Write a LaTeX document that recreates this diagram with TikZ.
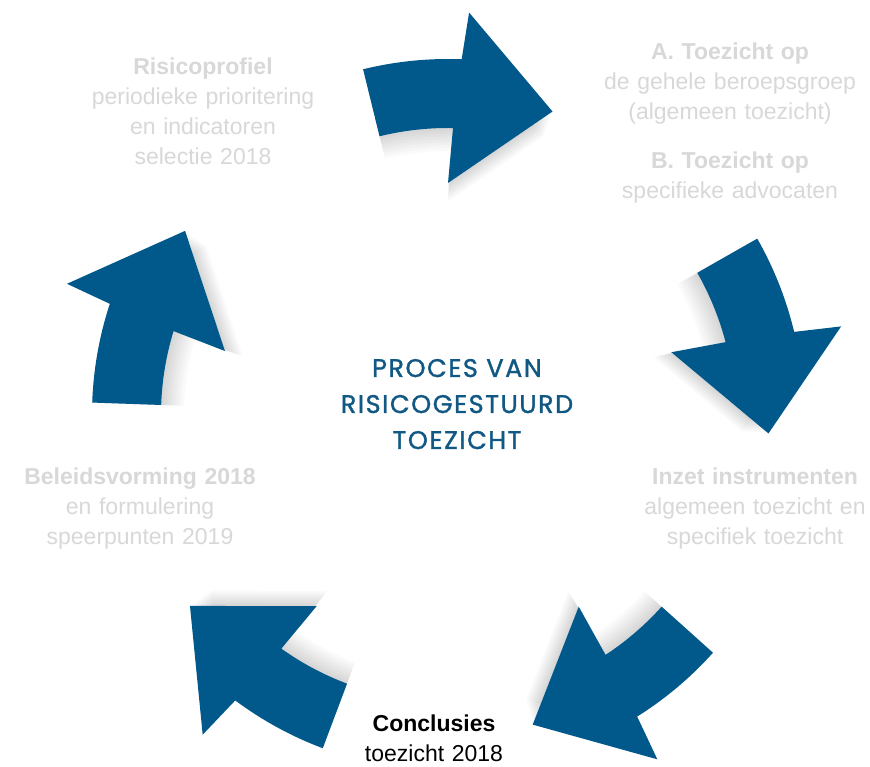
\documentclass[tikz,border=0pt]{standalone}
\usepackage{fontspec}
\setmainfont{Liberation Sans}
\newfontfamily\titlefont[LetterSpace=6,FakeBold=1.3]{Poppins}
\definecolor{arrowblue}{RGB}{0,89,138}
\definecolor{lightlabel}{RGB}{216,216,216}
\definecolor{titleblue}{RGB}{18,88,132}
% #1 = angle of head base, #2 = angle of tail (centre of the ring at origin)
\newcommand{\ringarrowpath}[2]{%
  (#2:356pt) arc[start angle=#2, end angle=#1-0.7, radius=356pt]
  -- (#1-1.5:403pt) -- (#1-17.5:321pt) -- (#1+1.5:232pt) -- (#1+0.5:287pt)
  arc[start angle=#1+0.5, end angle=#2, radius=287pt] -- cycle}
\newcommand{\ringarrow}[2]{%
  \foreach \s in {0.99,0.98,0.97,0.96,0.95,0.94,0.93,0.92}{%
    \begin{scope}[scale=\s]
      \fill[shadowpart] \ringarrowpath{#1}{#2};
    \end{scope}}%
  \fill[arrowpart] \ringarrowpath{#1}{#2};}
\begin{document}
\begin{tikzpicture}[x=1pt,y=1pt,
  arrowpart/.style={fill=arrowblue},
  shadowpart/.style={fill=black, fill opacity=0.018},
  lbl/.style={text width=280pt, align=center, anchor=base, inner sep=0pt,
    font=\fontsize{23}{30}\selectfont},
  graylbl/.style={lbl, text=lightlabel},
  blacklbl/.style={lbl, text=black},
  titlelbl/.style={text width=300pt, align=center, anchor=base, inner sep=0pt,
    text=titleblue, font=\titlefont\fontsize{25.5}{36}\selectfont}]
\fill[white] (0,0) rectangle (870,766);
\useasboundingbox (0,0) rectangle (870,766);
\coordinate (c) at (448,351);
\begin{scope}[shift={(c)}]
  \ringarrow{88.5}{103.8}
  \ringarrow{14.2}{29.7}
  \ringarrow{-57.2}{-41.9}
  \ringarrow{-126}{-110.6}
  \ringarrow{162.5}{178}
\end{scope}
\node[titlelbl] (title) at (457,389) {PROCES VAN\\RISICOGESTUURD\\TOEZICHT};
\node[graylbl] (risico) at (203,691) {\textbf{Risicoprofiel}\\periodieke prioritering\\en indicatoren\\selectie 2018};
\node[graylbl] (toezicht) at (730,706) {\textbf{A. Toezicht op}\\de gehele beroepsgroep\\(algemeen toezicht)\\[19pt]\textbf{B. Toezicht op}\\specifieke advocaten};
\node[graylbl] (inzet) at (755,281) {\textbf{Inzet instrumenten}\\algemeen toezicht en\\specifiek toezicht};
\node[blacklbl] (concl) at (434,35) {\textbf{Conclusies}\\toezicht 2018};
\node[graylbl] (beleid) at (140,281) {\textbf{Beleidsvorming 2018}\\en formulering\\speerpunten 2019};
\end{tikzpicture}
\end{document}
